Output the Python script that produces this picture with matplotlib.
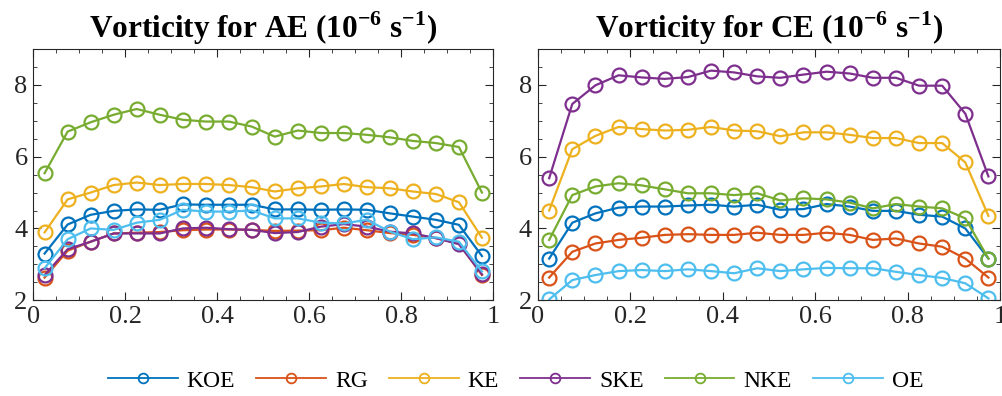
import numpy as np
import matplotlib
matplotlib.use("Agg")
import matplotlib.pyplot as plt
from matplotlib.ticker import MultipleLocator
from matplotlib.lines import Line2D

plt.rcParams['font.family'] = ['Liberation Serif', 'DejaVu Serif']
plt.rcParams['mathtext.fontset'] = 'custom'
plt.rcParams['mathtext.rm'] = 'Liberation Serif'
plt.rcParams['mathtext.bf'] = 'Liberation Serif:bold'

# bin centres
x = np.arange(0.025, 1.0, 0.05)

names = ['KOE', 'RG', 'KE', 'SKE', 'NKE', 'OE']
colors = ['#0072BD', '#D95319', '#EDB120', '#7E2F8E', '#77AC30', '#4DBEEE']

# anticyclonic eddies
ae_koe = [3.30, 4.11, 4.38, 4.49, 4.53, 4.52, 4.67, 4.66, 4.66, 4.66,
          4.53, 4.53, 4.52, 4.53, 4.52, 4.42, 4.33, 4.24, 4.10, 3.23]
ae_rg = [2.63, 3.38, 3.63, 3.86, 3.88, 3.90, 3.95, 3.97, 3.97, 3.96,
         3.93, 3.94, 3.95, 4.02, 3.95, 3.87, 3.82, 3.73, 3.58, 2.70]
ae_ke = [3.89, 4.81, 5.00, 5.21, 5.28, 5.21, 5.24, 5.24, 5.21, 5.15,
         5.03, 5.12, 5.17, 5.24, 5.15, 5.12, 5.03, 4.96, 4.73, 3.74]
ae_ske = [2.70, 3.42, 3.63, 3.86, 3.86, 3.86, 4.00, 4.02, 3.98, 3.96,
          3.87, 3.90, 4.05, 4.12, 4.05, 3.91, 3.86, 3.73, 3.56, 2.72]
ae_nke = [5.54, 6.70, 6.96, 7.17, 7.33, 7.17, 7.03, 6.98, 6.98, 6.84,
          6.56, 6.73, 6.66, 6.66, 6.61, 6.54, 6.44, 6.38, 6.27, 5.00]
ae_oe = [2.89, 3.70, 4.00, 3.96, 4.16, 4.24, 4.52, 4.47, 4.47, 4.50,
         4.28, 4.28, 4.16, 4.14, 4.24, 3.91, 3.70, 3.75, 3.63, 2.80]

# cyclonic eddies
ce_koe = [3.16, 4.16, 4.42, 4.58, 4.61, 4.61, 4.64, 4.66, 4.61, 4.66,
          4.52, 4.54, 4.68, 4.61, 4.49, 4.49, 4.38, 4.33, 4.00, 3.16]
ce_rg = [2.63, 3.35, 3.58, 3.68, 3.74, 3.82, 3.84, 3.82, 3.82, 3.88,
         3.82, 3.82, 3.88, 3.82, 3.68, 3.72, 3.58, 3.49, 3.16, 2.63]
ce_ke = [4.50, 6.21, 6.58, 6.83, 6.77, 6.73, 6.75, 6.83, 6.73, 6.71,
         6.57, 6.68, 6.68, 6.61, 6.52, 6.52, 6.38, 6.38, 5.84, 4.35]
ce_ske = [5.40, 7.47, 7.99, 8.27, 8.21, 8.17, 8.22, 8.40, 8.35, 8.24,
          8.20, 8.29, 8.37, 8.32, 8.20, 8.20, 7.98, 7.98, 7.20, 5.45]
ce_nke = [3.68, 4.93, 5.17, 5.26, 5.20, 5.09, 4.98, 4.98, 4.93, 4.98,
          4.78, 4.84, 4.81, 4.72, 4.56, 4.68, 4.61, 4.56, 4.28, 3.16]
ce_oe = [2.02, 2.56, 2.70, 2.81, 2.84, 2.81, 2.86, 2.81, 2.75, 2.89,
         2.81, 2.86, 2.90, 2.89, 2.89, 2.79, 2.70, 2.62, 2.47, 2.05]

ae = [ae_koe, ae_rg, ae_ke, ae_ske, ae_nke, ae_oe]
ce = [ce_koe, ce_rg, ce_ke, ce_ske, ce_nke, ce_oe]

fig = plt.figure(figsize=(10.03, 3.96), dpi=100)
ax1 = fig.add_axes([0.033, 0.242, 0.459, 0.634])
ax2 = fig.add_axes([0.536, 0.242, 0.461, 0.634])

dark = '#262626'
for ax, data, title in [(ax1, ae, 'AE'), (ax2, ce, 'CE')]:
    for vals, name, c in zip(data, names, colors):
        ax.plot(x, vals, '-o', color=c, lw=1.6, ms=10, mfc='none',
                mew=1.6, label=name)
    ax.set_xlim(0, 1)
    ax.set_ylim(2, 9)
    ax.set_xticks([0, 0.2, 0.4, 0.6, 0.8, 1])
    ax.set_xticklabels(['0', '0.2', '0.4', '0.6', '0.8', '1'])
    ax.set_yticks([2, 4, 6, 8])
    ax.xaxis.set_minor_locator(MultipleLocator(0.05))
    ax.yaxis.set_minor_locator(MultipleLocator(0.5))
    ax.tick_params(which='both', direction='in', top=True, right=True,
                   colors=dark, labelsize=19, pad=4)
    ax.tick_params(which='major', length=6, width=0.8)
    ax.tick_params(which='minor', length=3, width=0.6)
    for s in ax.spines.values():
        s.set_color(dark)
        s.set_linewidth(0.8)
    ax.set_title('Vorticity for ' + title + r' (10$^{\mathbf{-6}}$ s$^{\mathbf{-1}}$)',
                 fontsize=22.5, fontweight='bold', pad=8)

# legend uses smaller markers than the plot lines
handles = [Line2D([], [], color=c, lw=1.3, marker='o', ms=7, mfc='none', mew=1.3)
           for c in colors]
fig.legend(handles, names, loc='center', bbox_to_anchor=(0.514, 0.038),
           ncol=6, frameon=False, fontsize=17, handlelength=2.95,
           columnspacing=0.9, handletextpad=0.38)

fig.savefig('out.png', dpi=100)
